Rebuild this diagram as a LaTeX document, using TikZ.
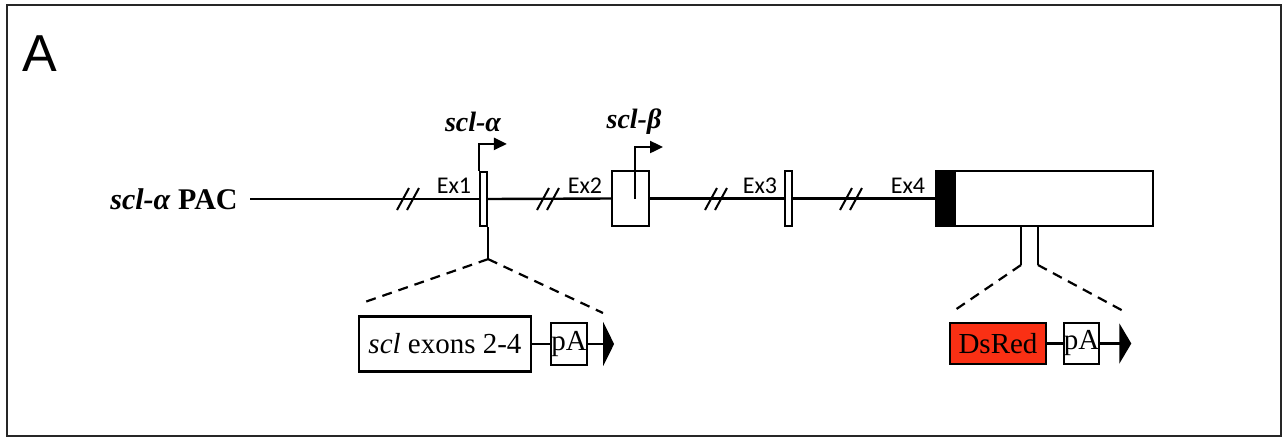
\documentclass[tikz,border=0pt]{standalone}
\usepackage{fontspec}
\setmainfont{Liberation Serif}
\newfontfamily\exfont{Carlito}
\newfontfamily\panelfont{Liberation Sans}
\usetikzlibrary{positioning,arrows.meta}
\definecolor{dsred}{RGB}{250,48,20}

\tikzset{
  gene/.style={line width=2.4pt},
  exonbox/.style={draw, line width=2.2pt, fill=white, inner sep=0pt},
  cassette/.style={draw, line width=2.2pt, inner sep=0pt, font=\fontsize{29}{31}\selectfont},
  zoomline/.style={line width=2.2pt, dash pattern=on 10pt off 7pt},
  tss/.style={line width=2.4pt, -{Triangle[length=13pt,width=12pt]}},
  exlabel/.style={font=\exfont\fontsize{24}{26}\selectfont},
  promlabel/.style={font=\bfseries\itshape\fontsize{28}{30}\selectfont},
}

\begin{document}
\begin{tikzpicture}[x=1pt, y=-1pt]
    \useasboundingbox (0,0) rectangle (1288,440);
    % Panel frame and letter
    \draw[line width=2pt, black!85] (7,5) rectangle (1281,436);
    \node[font=\panelfont\fontsize{52}{54}\selectfont, inner sep=0pt] (panel) at (40,54) {A};

    % PAC label
    \node[font=\fontsize{30}{32}\selectfont, inner sep=0pt] (pac) at (174,199) {\textbf{\textit{scl-α}} \textbf{PAC}};

    % Exons
    \node[exonbox, minimum width=7pt, minimum height=54pt] (ex1) at (483.5,199) {};
    \node[exonbox, minimum width=37pt, minimum height=55pt] (ex2) at (630.5,198.5) {};
    \node[exonbox, minimum width=7pt, minimum height=55pt] (ex3) at (788.5,198.5) {};
    \node[exonbox, fill=black, minimum width=17pt, minimum height=55pt] (ex4) at (944.5,198.5) {};
    \node[exonbox, minimum width=198pt, minimum height=55pt, right=0pt of ex4] (utr) {};

    % Gene backbone
    \coordinate (pacstart) at (250,199);
    \draw[gene] (pacstart) -- (ex1.west);
    \draw[gene] (ex1.east) -- (ex2.west);
    \draw[gene] (ex2.east) -- (ex3.west);
    \draw[gene] (ex3.east) -- (ex4.west);

    % Breaks
    \foreach \bx in {403, 543, 711, 846} {
        \draw[line width=2pt] (\bx-6,210) -- (\bx+6,188);
        \draw[line width=2pt] (\bx+4,210) -- (\bx+16,188);
    }

    % Exon labels
    \node[exlabel] (lab1) at (454,186) {Ex1};
    \node[exlabel] (lab2) at (585,186) {Ex2};
    \node[exlabel] (lab3) at (760,186) {Ex3};
    \node[exlabel] (lab4) at (908,186) {Ex4};

    % Promoters
    \draw[tss] (ex1.north west) -- ++(0,-27) -- ++(28,0);
    \coordinate (tssb) at (635,199);
    \draw[tss] (tssb) -- ++(0,-52) -- ++(28,0);
    \node[promlabel] (alpha) at (473,122) {scl-α};
    \node[promlabel] (beta) at (634,122) {scl-β};

    % Insertion into exon 1
    \coordinate (fold1) at ([yshift=-32pt]ex1.south east);
    \draw[gene] (ex1.south east) -- (fold1);
    \node[cassette, minimum width=172pt, minimum height=55pt] (sclbox) at (445,344) {\textit{scl} exons 2-4};
    \node[cassette, minimum width=36pt, minimum height=42pt] (pa1) at (569,344) {pA};
    \draw[gene] (sclbox) -- (pa1);
    \draw[gene, -{Triangle[length=11pt,width=44pt]}] (pa1.east) -- ++(26,0);
    \draw[zoomline] (fold1) -- (362,303);
    \draw[zoomline] (fold1) -- (603,313);

    % Insertion into exon 4
    \coordinate (fold2a) at (1021,265);
    \coordinate (fold2b) at (1038,265);
    \draw[gene] (fold2a |- utr.south) -- (fold2a);
    \draw[gene] (fold2b |- utr.south) -- (fold2b);
    \node[cassette, fill=dsred, minimum width=96pt, minimum height=41pt] (dsred) at (998,343.5) {DsRed};
    \node[cassette, minimum width=35pt, minimum height=41pt] (pa2) at (1081.5,343.5) {pA};
    \draw[gene] (dsred) -- (pa2);
    \draw[gene, -{Triangle[length=12pt,width=40pt]}] (pa2.east) -- ++(31,0);
    \draw[zoomline] (fold2a) -- (955,310);
    \draw[zoomline] (fold2b) -- (1127,313);
\end{tikzpicture}
\end{document}
